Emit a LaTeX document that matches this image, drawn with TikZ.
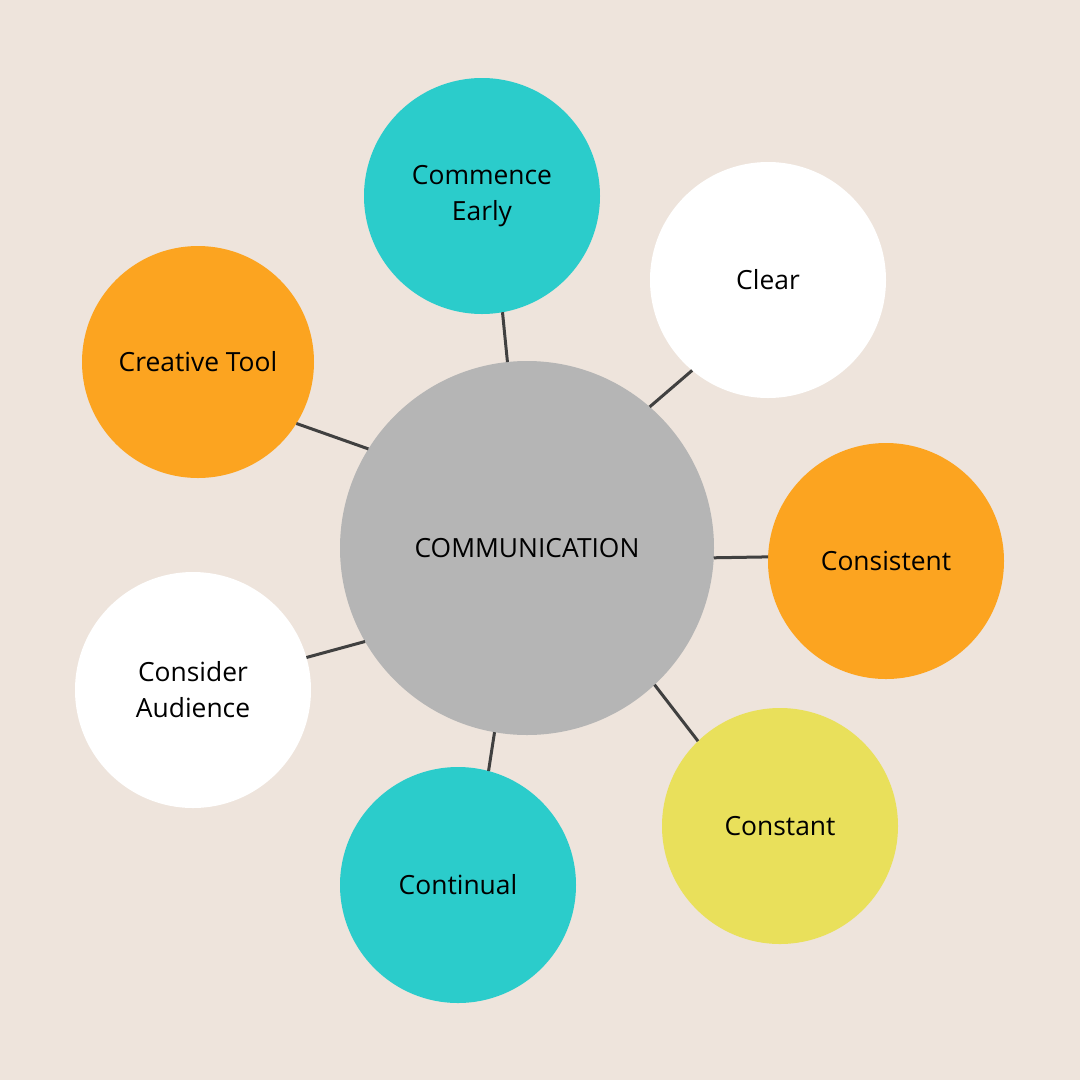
\documentclass[tikz,border=0pt]{standalone}
\usepackage{fontspec}
\setmainfont{Open Sans}
\definecolor{bg}{HTML}{EEE4DC}
\definecolor{teal}{HTML}{2BCCCB}
\definecolor{orng}{HTML}{FCA420}
\definecolor{yelo}{HTML}{E9E05B}
\definecolor{gry}{HTML}{B5B5B5}
\definecolor{lin}{HTML}{404040}
\begin{document}
\begin{tikzpicture}[x=1pt,y=-1pt,
  bubble/.style={circle,inner sep=0pt,outer sep=0pt,minimum size=236pt,align=center,
    font=\fontsize{26.4}{36}\selectfont,text=black},
  link/.style={draw=lin,line width=3pt}]
\fill[bg] (0,0) rectangle (1080,1080);
\useasboundingbox (0,0) rectangle (1080,1080);
\node[bubble,fill=gry,minimum size=374pt] (hub) at (527,548) {COMMUNICATION};
\node[bubble,fill=teal] (early) at (482,196) {Commence\\Early};
\node[bubble,fill=white] (clear) at (768,280) {Clear};
\node[bubble,fill=orng,minimum size=232pt] (tool) at (198,362) {Creative Tool};
\node[bubble,fill=orng] (cons) at (886,561) {Consistent};
\node[bubble,fill=white] (aud) at (193,690) {Consider\\Audience};
\node[bubble,fill=yelo] (const) at (780,826) {Constant};
\node[bubble,fill=teal] (cont) at (458,885) {Continual};
\draw[link] (early.280) -- (hub.96.4);
\draw[link] (clear.230.5) -- (hub.49.3);
\draw[link] (tool.328.8) -- (hub.148.4);
\draw[link] (cons.178) -- (hub.357.6);
\draw[link] (aud.16.1) -- (hub.210.5);
\draw[link] (const.134.7) -- (hub.313.3);
\draw[link] (cont.75.3) -- (hub.260);
\end{tikzpicture}
\end{document}
